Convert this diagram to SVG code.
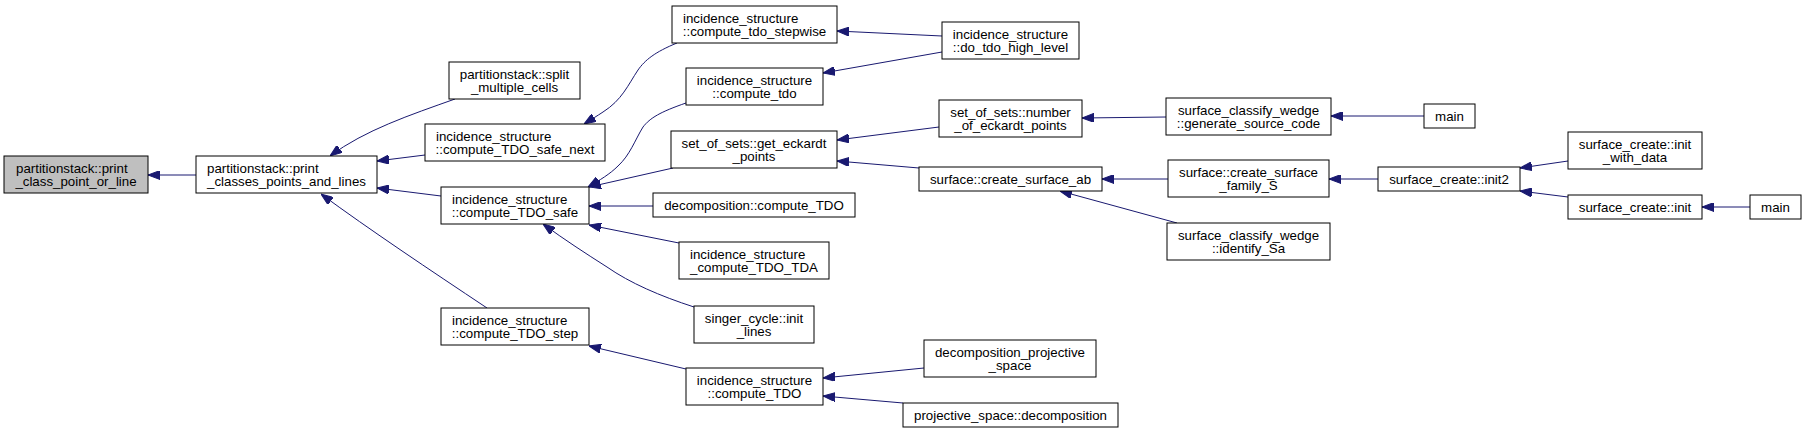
<svg xmlns="http://www.w3.org/2000/svg" width="1806" height="433" viewBox="0 0 1806 433">
<defs>
<marker id="ah" viewBox="0 0 12 9" refX="12" refY="4.5" markerWidth="12" markerHeight="9" markerUnits="userSpaceOnUse" orient="auto">
<path d="M0,0 L12,4.5 L0,9 Z" fill="#191970" stroke="#191970" stroke-width="1"/>
</marker>
</defs>
<style>
.n rect{fill:#ffffff;stroke:#000000;stroke-width:1}
.n.root rect{fill:#bfbfbf}
.n text{font-family:"Liberation Sans",Arial,Helvetica,sans-serif;font-size:13.3px;fill:#000000}
.m{text-anchor:middle}
.s{text-anchor:start}
#edges path{fill:none;stroke:#191970;stroke-width:1;marker-end:url(#ah)}
</style>
<rect x="0" y="0" width="1806" height="433" fill="#ffffff"/>
<g id="edges">
<path d="M196,175 L148,175"/>
<path d="M455,99 C410,115 365,130 330,156"/>
<path d="M425,155 L377,161"/>
<path d="M441,196 L377,188"/>
<path d="M487,308 C430,270 370,230 321,194"/>
<path d="M677,43 C655,52 645,60 638,70 C628,85 622,100 603,112 C597,116 592,119 584,124"/>
<path d="M686,103 C660,112 650,118 643,127 C635,140 630,155 618,166 C610,174 600,180 588,187"/>
<path d="M673,168 L589,187"/>
<path d="M653,206 L589,206"/>
<path d="M679,243 L589,225"/>
<path d="M694,307 C660,296 630,283 607,267 C585,253 565,240 543,224"/>
<path d="M686,369 L589,346"/>
<path d="M942,36 L837,31"/>
<path d="M942,52 L823,73"/>
<path d="M939,127 L837,140"/>
<path d="M919,168 L837,161"/>
<path d="M1166,117 L1082,118"/>
<path d="M1168,179 L1102,179"/>
<path d="M1177,223 L1060,191"/>
<path d="M1424,116 L1331,116"/>
<path d="M1378,179 L1329,179"/>
<path d="M1568,161 L1520,168"/>
<path d="M1568,197 L1520,191"/>
<path d="M1750,207 L1702,207"/>
<path d="M924,368 L823,378"/>
<path d="M903,403 L823,396"/>
</g>
<g id="n0" class="n root"><rect x="4" y="156" width="144" height="37"/><text class="s" x="16" y="173">partitionstack::print</text><text class="m" x="76" y="186">_class_point_or_line</text></g>
<g id="n1" class="n"><rect x="196" y="156" width="181" height="37"/><text class="s" x="207" y="173">partitionstack::print</text><text class="m" x="286.5" y="186">_classes_points_and_lines</text></g>
<g id="n2" class="n"><rect x="449" y="62" width="131" height="37"/><text class="m" x="514.5" y="79">partitionstack::split</text><text class="m" x="514.5" y="92">_multiple_cells</text></g>
<g id="n3" class="n"><rect x="425" y="124" width="180" height="37"/><text class="s" x="436" y="141">incidence_structure</text><text class="m" x="515" y="154">::compute_TDO_safe_next</text></g>
<g id="n4" class="n"><rect x="441" y="187" width="148" height="37"/><text class="s" x="452" y="204">incidence_structure</text><text class="m" x="515" y="217">::compute_TDO_safe</text></g>
<g id="n5" class="n"><rect x="441" y="308" width="148" height="37"/><text class="s" x="452" y="325">incidence_structure</text><text class="m" x="515" y="338">::compute_TDO_step</text></g>
<g id="n6" class="n"><rect x="672" y="6" width="165" height="37"/><text class="s" x="683" y="23">incidence_structure</text><text class="m" x="754.5" y="36">::compute_tdo_stepwise</text></g>
<g id="n7" class="n"><rect x="686" y="68" width="137" height="37"/><text class="m" x="754.5" y="85">incidence_structure</text><text class="m" x="754.5" y="98">::compute_tdo</text></g>
<g id="n8" class="n"><rect x="671" y="131" width="166" height="37"/><text class="m" x="754" y="148">set_of_sets::get_eckardt</text><text class="m" x="754" y="161">_points</text></g>
<g id="n9" class="n"><rect x="653" y="193" width="202" height="24"/><text class="m" x="754" y="210">decomposition::compute_TDO</text></g>
<g id="n10" class="n"><rect x="679" y="242" width="150" height="37"/><text class="s" x="690" y="259">incidence_structure</text><text class="m" x="754" y="272">_compute_TDO_TDA</text></g>
<g id="n11" class="n"><rect x="694" y="306" width="120" height="37"/><text class="m" x="754" y="323">singer_cycle::init</text><text class="m" x="754" y="336">_lines</text></g>
<g id="n12" class="n"><rect x="686" y="368" width="137" height="37"/><text class="m" x="754.5" y="385">incidence_structure</text><text class="m" x="754.5" y="398">::compute_TDO</text></g>
<g id="n13" class="n"><rect x="942" y="22" width="137" height="37"/><text class="m" x="1010.5" y="39">incidence_structure</text><text class="m" x="1010.5" y="52">::do_tdo_high_level</text></g>
<g id="n14" class="n"><rect x="939" y="100" width="143" height="37"/><text class="m" x="1010.5" y="117">set_of_sets::number</text><text class="m" x="1010.5" y="130">_of_eckardt_points</text></g>
<g id="n15" class="n"><rect x="919" y="167" width="183" height="24"/><text class="m" x="1010.5" y="184">surface::create_surface_ab</text></g>
<g id="n16" class="n"><rect x="924" y="340" width="172" height="37"/><text class="m" x="1010" y="357">decomposition_projective</text><text class="m" x="1010" y="370">_space</text></g>
<g id="n17" class="n"><rect x="903" y="403" width="215" height="24"/><text class="m" x="1010.5" y="420">projective_space::decomposition</text></g>
<g id="n18" class="n"><rect x="1166" y="98" width="165" height="37"/><text class="m" x="1248.5" y="115">surface_classify_wedge</text><text class="m" x="1248.5" y="128">::generate_source_code</text></g>
<g id="n19" class="n"><rect x="1168" y="160" width="161" height="37"/><text class="m" x="1248.5" y="177">surface::create_surface</text><text class="m" x="1248.5" y="190">_family_S</text></g>
<g id="n20" class="n"><rect x="1167" y="223" width="163" height="37"/><text class="m" x="1248.5" y="240">surface_classify_wedge</text><text class="m" x="1248.5" y="253">::identify_Sa</text></g>
<g id="n21" class="n"><rect x="1424" y="104" width="51" height="24"/><text class="m" x="1449.5" y="121">main</text></g>
<g id="n22" class="n"><rect x="1378" y="167" width="142" height="24"/><text class="m" x="1449" y="184">surface_create::init2</text></g>
<g id="n23" class="n"><rect x="1568" y="132" width="134" height="37"/><text class="m" x="1635" y="149">surface_create::init</text><text class="m" x="1635" y="162">_with_data</text></g>
<g id="n24" class="n"><rect x="1568" y="195" width="134" height="24"/><text class="m" x="1635" y="212">surface_create::init</text></g>
<g id="n25" class="n"><rect x="1750" y="195" width="51" height="24"/><text class="m" x="1775.5" y="212">main</text></g>
</svg>
